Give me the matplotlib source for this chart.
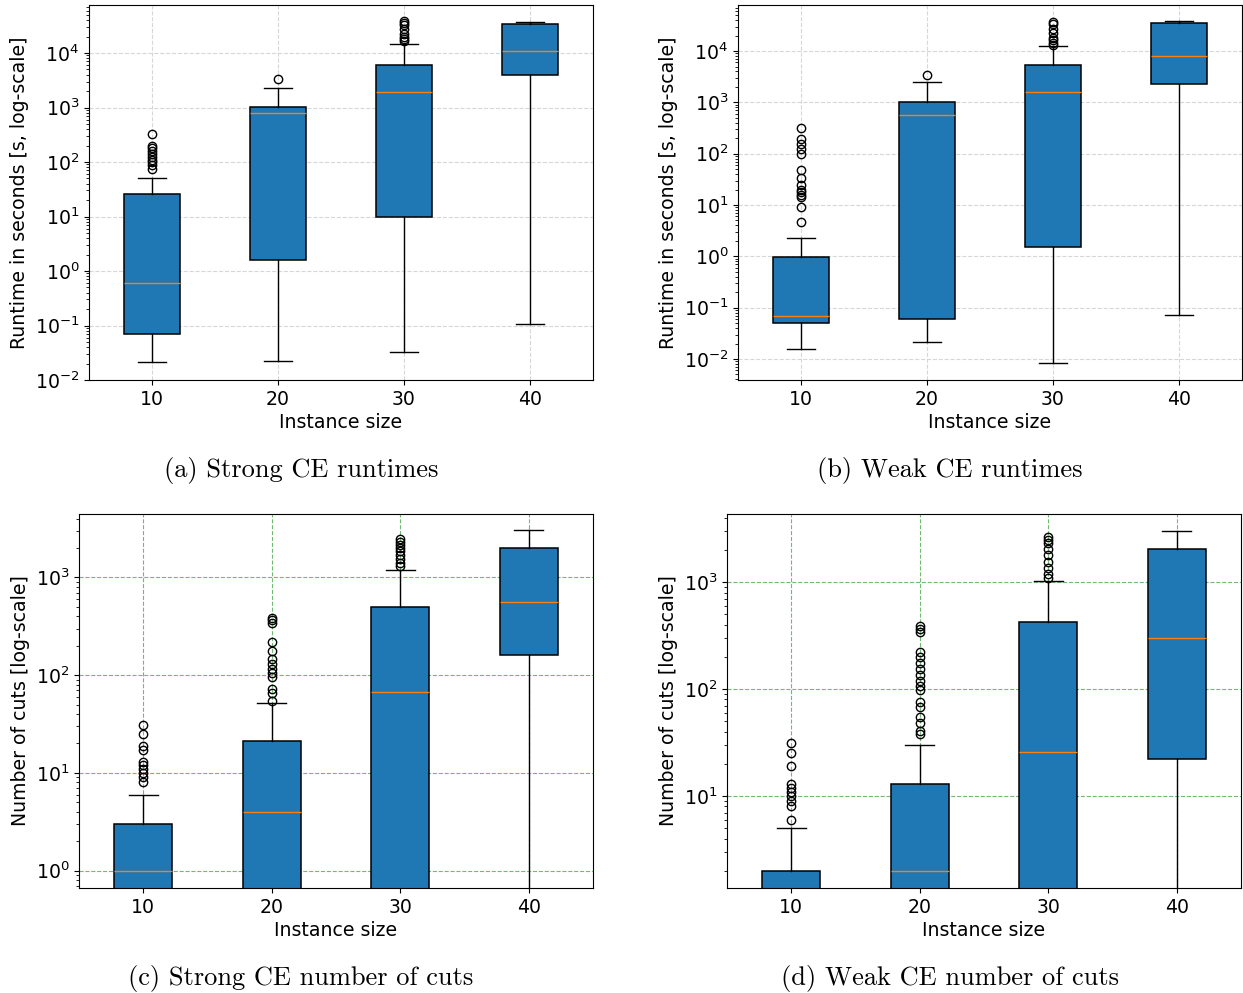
import matplotlib
matplotlib.use("Agg")
import matplotlib.pyplot as plt

SIZES = [10, 20, 30, 40]

# (a) strong CE runtimes [s]
a_q1 = [0.07, 1.6, 9.6, 3900]
a_med = [0.61, 780, 1950, 10700]
a_q3 = [26, 1030, 6100, 34500]
a_lo = [0.021, 0.022, 0.033, 0.107]
a_hi = [50, 2300, 14700, 37000]
a_fliers = [
    [75, 88, 100, 110, 125, 140, 160, 180, 200, 320],
    [3300],
    [16500, 18000, 20000, 22000, 28000, 33000, 36000, 38000],
    [],
]

# (b) weak CE runtimes [s]
b_q1 = [0.051, 0.061, 1.55, 2300]
b_med = [0.0695, 556, 1620, 8150]
b_q3 = [0.955, 1000, 5300, 35500]
b_lo = [0.0155, 0.021, 0.0085, 0.073]
b_hi = [2.3, 2520, 12700, 38000]
b_fliers = [
    [4.6, 9, 14.5, 16, 18, 20, 25, 33, 48, 100, 125, 155, 190, 320],
    [3400],
    [13000, 14500, 16500, 18000, 22000, 27000, 33000, 37000],
    [],
]

# (c) strong CE number of cuts
c_q1 = [0, 0, 0, 160]
c_med = [1, 4, 67, 563]
c_q3 = [3, 21, 500, 1980]
c_lo = [0, 0, 0, 0]
c_hi = [6, 52, 1200, 3020]
c_fliers = [
    [8, 9, 10, 11, 12, 13, 17, 19, 25, 31],
    [54, 66, 73, 95, 105, 115, 130, 148, 175, 220, 340, 365, 385],
    [1300, 1400, 1550, 1700, 1850, 2000, 2150, 2300, 2450],
    [],
]

# (d) weak CE number of cuts
d_q1 = [0, 0, 0, 22]
d_med = [0, 2, 26, 303]
d_q3 = [2, 13, 428, 2040]
d_lo = [0, 0, 0, 0]
d_hi = [5, 30, 1020, 3000]
d_fliers = [
    [6, 8, 9, 10, 11, 12, 13, 19, 25, 31],
    [38, 41, 48, 55, 68, 75, 98, 108, 120, 135, 155, 175, 200, 220, 340, 365, 385],
    [1100, 1200, 1350, 1550, 1800, 2050, 2300, 2500, 2650],
    [],
]

CAPTIONS = ["(a) Strong CE runtimes", "(b) Weak CE runtimes",
            "(c) Strong CE number of cuts", "(d) Weak CE number of cuts"]
YLABELS = ["Runtime in seconds [s, log-scale]", "Runtime in seconds [s, log-scale]",
           "Number of cuts [log-scale]", "Number of cuts [log-scale]"]

W, H = 1243, 993


def make_stats(q1, med, q3, lo, hi, fliers):
    stats = []
    for i in range(len(SIZES)):
        stats.append(dict(q1=q1[i], med=med[i], q3=q3[i], whislo=lo[i],
                          whishi=hi[i], fliers=fliers[i], label=str(SIZES[i])))
    return stats


def px_axes(fig, left, right, top, bottom):
    return fig.add_axes([left / W, 1 - bottom / H, (right - left) / W, (bottom - top) / H])


fig = plt.figure(figsize=(W / 100, H / 100), dpi=100)

panels = [
    (make_stats(a_q1, a_med, a_q3, a_lo, a_hi, a_fliers), (89, 593, 5, 380), (1e-2, 7.6e4), "grey"),
    (make_stats(b_q1, b_med, b_q3, b_lo, b_hi, b_fliers), (738, 1242, 5, 380), (3.9e-3, 7.9e4), "grey"),
    (make_stats(c_q1, c_med, c_q3, c_lo, c_hi, c_fliers), (79, 593, 514, 888), (0.665, 4450), "green"),
    (make_stats(d_q1, d_med, d_q3, d_lo, d_hi, d_fliers), (727, 1241, 514, 888), (1.38, 4340), "green"),
]
cap_pos = [(301, 470), (950, 470), (301, 979), (950, 979)]

for k, (stats, box, ylim, gcol) in enumerate(panels):
    ax = px_axes(fig, *box)
    ax.set_yscale("log")
    ax.bxp(stats, widths=0.45, patch_artist=True,
           boxprops=dict(facecolor="#1f77b4", edgecolor="black", linewidth=1.1),
           medianprops=dict(color="#ff7f0e"),
           flierprops=dict(marker="o", markerfacecolor="none", markeredgecolor="black"))
    ax.set_ylim(*ylim)
    ax.set_xlim(0.5, 4.5)
    if gcol == "grey":
        ax.grid(True, which="major", linestyle="--", color="lightgrey", alpha=0.9)
    else:
        ax.grid(True, which="major", linestyle="--", color="green", alpha=0.55)
    ax.set_axisbelow(True)
    ax.set_xlabel("Instance size", fontsize=13.6, labelpad=3)
    ax.set_ylabel(YLABELS[k], fontsize=13.6)
    ax.tick_params(labelsize=13.6)
    cx, cy = cap_pos[k]
    fig.text(cx / W, 1 - cy / H, CAPTIONS[k], ha="center", va="center",
             family="cmr10", fontsize=19)

fig.savefig("out.png", dpi=100)
